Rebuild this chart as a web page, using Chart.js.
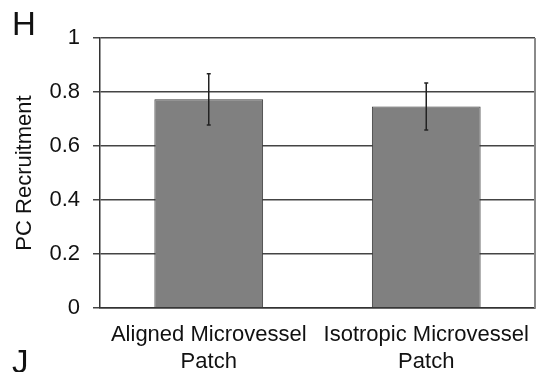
<!DOCTYPE html>
<html>
<head>
<meta charset="utf-8">
<script src="https://cdn.jsdelivr.net/npm/chart.js@4"></script>
<style>
  body { margin: 0; background: #fff; }
</style>
</head>
<body>
<canvas id="chart" width="539" height="372"></canvas>
<script>
// data
var categories = [['Aligned Microvessel', 'Patch'], ['Isotropic Microvessel', 'Patch']]
var values = [0.773, 0.746]
var errors = [0.095, 0.087]
var yTicks = [0, 0.2, 0.4, 0.6, 0.8, 1]

var FONT = 'Liberation Sans, Arial, sans-serif'

//误差线 + 右边框 + 面板字母
var extras = {
    id: 'extras',
    afterDatasetsDraw: (chart) => {
        var ctx = chart.ctx
        var y = chart.scales.y
        var meta = chart.getDatasetMeta(0)
        ctx.save()
        ctx.strokeStyle = '#222'
        ctx.lineWidth = 1.5
        meta.data.forEach((bar, i) => {
            var top = y.getPixelForValue(values[i] + errors[i])
            var bot = y.getPixelForValue(values[i] - errors[i])
            ctx.beginPath()
            ctx.moveTo(bar.x, top)
            ctx.lineTo(bar.x, bot)
            ctx.moveTo(bar.x - 2, top)
            ctx.lineTo(bar.x + 2, top)
            ctx.moveTo(bar.x - 2, bot)
            ctx.lineTo(bar.x + 2, bot)
            ctx.stroke()
        })
        var a = chart.chartArea
        ctx.strokeStyle = '#8a8a8a'
        ctx.lineWidth = 2
        ctx.beginPath()
        ctx.moveTo(a.right, a.top)
        ctx.lineTo(a.right, a.bottom)
        ctx.stroke()
        ctx.fillStyle = '#111'
        ctx.font = '33px ' + FONT
        ctx.textBaseline = 'alphabetic'
        ctx.fillText('H', 12, 35)
        ctx.fillText('J', 12, 373)
        ctx.restore()
    }
}

var chart = new Chart(document.getElementById('chart'), {
    type: 'bar',
    data: {
        labels: categories,
        datasets: [{
            data: values,
            backgroundColor: '#808080',
            borderColor: '#3a3a3a',
            borderWidth: 1,
            barPercentage: 0.5,
            categoryPercentage: 1
        }]
    },
    options: {
        responsive: false,
        animation: false,
        layout: { padding: { top: 38, right: 4, left: 0, bottom: 0 } },
        plugins: {
            legend: { display: false },
            tooltip: { enabled: false }
        },
        scales: {
            x: {
                grid: { display: false, drawTicks: false },
                border: { color: '#333', width: 1.5 },
                ticks: {
                    color: '#111',
                    font: { family: FONT, size: 22, lineHeight: 1.2 },
                    padding: 14,
                    maxRotation: 0,
                    autoSkip: false
                },
                afterFit: (s) => {
                    s.height = 64
                    s.paddingLeft = 0
                    s.paddingRight = 0
                }
            },
            y: {
                min: 0,
                max: 1,
                afterBuildTicks: (s) => { s.ticks = yTicks.map(v => ({ value: v })) },
                grid: { color: '#444', lineWidth: 1.5, tickLength: 7 },
                border: { color: '#333', width: 1.5 },
                ticks: {
                    color: '#111',
                    font: { family: FONT, size: 22 },
                    padding: 13,
                    callback: (v) => String(v)
                },
                title: {
                    display: true,
                    text: 'PC Recruitment',
                    color: '#111',
                    font: { family: FONT, size: 22 },
                    padding: { top: 12, bottom: 0 }
                },
                afterFit: (s) => {
                    s.width = 100
                    s.paddingTop = 0
                    s.paddingBottom = 0
                }
            }
        }
    },
    plugins: [extras]
})
</script>
</body>
</html>
